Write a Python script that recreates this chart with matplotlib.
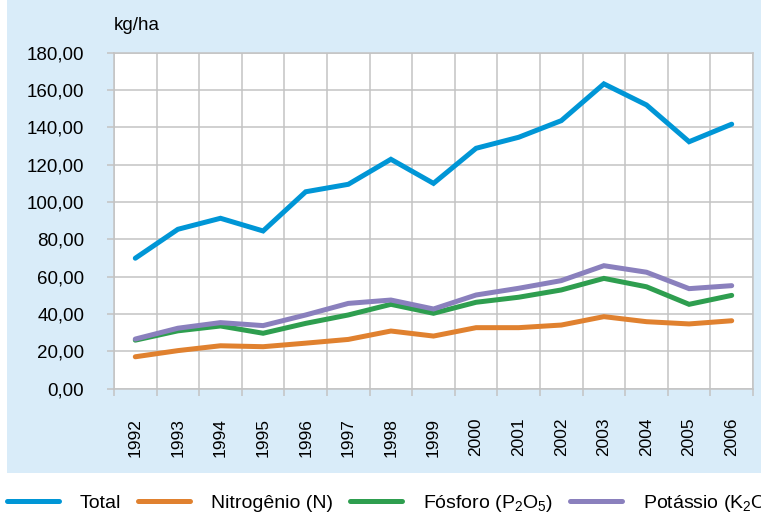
import matplotlib
matplotlib.use("Agg")
import matplotlib.pyplot as plt
from matplotlib.patches import Rectangle
from matplotlib.ticker import FixedLocator, NullFormatter
import numpy as np

plt.rcParams['font.family'] = ['Liberation Sans', 'DejaVu Sans']
plt.rcParams['mathtext.fontset'] = 'custom'
plt.rcParams['mathtext.rm'] = 'Liberation Sans'
plt.rcParams['mathtext.it'] = 'Liberation Sans'

years = ['1992', '1993', '1994', '1995', '1996', '1997', '1998', '1999',
         '2000', '2001', '2002', '2003', '2004', '2005', '2006']
total = [69.9, 85.4, 91.3, 84.5, 105.5, 109.5, 122.9, 110.0, 128.8, 134.7,
         143.6, 163.3, 152.0, 132.3, 141.7]
nitrogenio = [17.1, 20.4, 23.0, 22.5, 24.4, 26.4, 30.9, 28.2, 32.7, 32.7,
              34.1, 38.6, 35.9, 34.7, 36.4]
fosforo = [26.0, 31.0, 33.6, 29.7, 35.0, 39.5, 45.2, 40.4, 46.3, 49.0,
           52.9, 59.1, 54.6, 45.2, 50.0]
potassio = [26.6, 32.4, 35.4, 33.8, 39.5, 45.7, 47.5, 42.7, 50.2, 53.8,
            57.9, 65.9, 62.4, 53.6, 55.2]
series_labels = ['Total', 'Nitrogênio (N)',
                 r'Fósforo (P$\mathregular{_2}$O$\mathregular{_5}$)',
                 r'Potássio (K$\mathregular{_2}$O)']
colors = ['#0096d6', '#e0812f', '#2e9e4f', '#8a80bd']
y_ticks = [0, 20, 40, 60, 80, 100, 120, 140, 160, 180]
y_ticklabels = ['0,00', '20,00', '40,00', '60,00', '80,00', '100,00',
                '120,00', '140,00', '160,00', '180,00']

W, H = 761, 512
fig = plt.figure(figsize=(W / 100, H / 100), dpi=100)
fig.patch.set_facecolor('white')
fig.add_artist(Rectangle((7 / W, 1 - 473 / H), 1 - 7 / W, 473 / H,
                         transform=fig.transFigure, facecolor='#d9ecf9',
                         edgecolor='none', zorder=0))

left, right, top, bottom = 114, 753, 52.7, 388.7
ax = fig.add_axes([left / W, 1 - bottom / H, (right - left) / W, (bottom - top) / H])
ax.set_facecolor('white')

x = np.arange(len(years))
for vals, c, lab in zip([total, nitrogenio, fosforo, potassio], colors, series_labels):
    ax.plot(x, vals, color=c, lw=3.6, solid_capstyle='round',
            solid_joinstyle='miter', label=lab, zorder=3)

ax.set_xlim(-0.5, len(years) - 0.5)
ax.set_ylim(0, 180)

grid_c = '#c3c3c3'
ax.xaxis.set_major_locator(FixedLocator(np.arange(len(years) + 1) - 0.5))
ax.xaxis.set_major_formatter(NullFormatter())
ax.set_xticks(x, minor=True)
ax.set_xticklabels(years, minor=True, rotation=90, fontsize=12.5)
ax.tick_params(axis='x', which='minor', length=0, pad=21)
ax.tick_params(axis='x', which='major', length=5, width=1.1, color=grid_c)

ax.set_yticks(y_ticks)
ax.set_yticklabels(y_ticklabels, fontsize=13.5)
ax.tick_params(axis='y', length=5, width=1.1, color=grid_c, pad=16.5)

ax.grid(True, which='major', color=grid_c, lw=1.1, zorder=1)
for s in ax.spines.values():
    s.set_color(grid_c)
    s.set_linewidth(1.1)

fig.text(114 / W, 1 - 25 / H, 'kg/ha', fontsize=13.5, ha='left', va='center')

fs = 14
fig.legend(loc='center left', bbox_to_anchor=(7 / W, 1 - 503 / H),
           ncol=4, frameon=False, fontsize=fs, handlelength=2.67,
           handletextpad=1.08, columnspacing=0.87, borderpad=0, borderaxespad=0)

fig.savefig('out.png', dpi=100)
